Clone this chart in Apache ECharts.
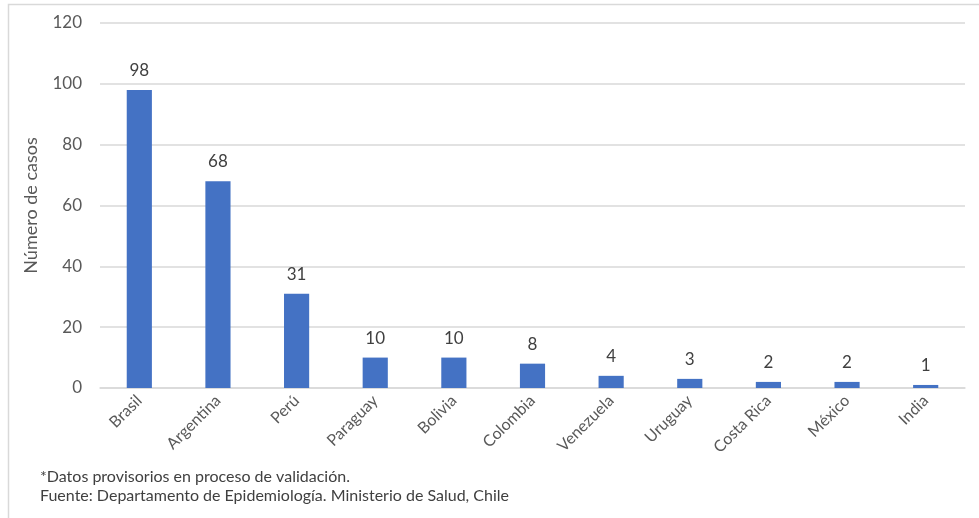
<!DOCTYPE html>
<html>
<head>
<meta charset="utf-8">
<script src="https://cdn.jsdelivr.net/npm/echarts@6/dist/echarts.min.js"></script>
<style>
  html, body { margin: 0; padding: 0; background: #fff; }
  #chart { width: 979px; height: 518px; }
</style>
</head>
<body>
<div id="chart"></div>
<script>
const countries = ['Brasil', 'Argentina', 'Perú', 'Paraguay', 'Bolivia', 'Colombia', 'Venezuela', 'Uruguay', 'Costa Rica', 'México', 'India']
const cases = [98, 68, 31, 10, 10, 8, 4, 3, 2, 2, 1]
const yTicks = { min: 0, max: 120, interval: 20 }
const notes = [
    '*Datos provisorios en proceso de validación.',
    'Fuente: Departamento de Epidemiología. Ministerio de Salud, Chile',
]

const font = 'Lato, "Open Sans", sans-serif'
const chart = echarts.init(document.getElementById('chart'))

chart.setOption({
    animation: false,
    textStyle: { fontFamily: font },
    grid: { left: 100, right: 14, top: 23, bottom: 130 },
    xAxis: {
        type: 'category',
        data: countries,
        axisLine: { lineStyle: { color: '#d9d9d9', width: 1.5 } },
        axisTick: { show: false },
        axisLabel: {
            rotate: 45,
            color: '#595959',
            fontSize: 16,
            fontFamily: font,
            margin: 10,
        },
    },
    yAxis: {
        type: 'value',
        min: yTicks.min,
        max: yTicks.max,
        interval: yTicks.interval,
        name: 'Número de casos',
        nameLocation: 'middle',
        nameGap: 60,
        nameTextStyle: { color: '#595959', fontSize: 18, fontFamily: font },
        axisLine: { show: false },
        axisTick: { show: false },
        axisLabel: { color: '#595959', fontSize: 17, fontFamily: font, margin: 18 },
        splitLine: { lineStyle: { color: '#d9d9d9', width: 1.5 } },
    },
    series: [{
        type: 'bar',
        data: cases,
        barWidth: '32%',
        itemStyle: { color: '#4472c4' },
        label: {
            show: true,
            position: 'top',
            distance: 11,
            color: '#404040',
            fontSize: 17,
            fontFamily: font,
        },
    }],
    graphic: [
        {
            type: 'rect',
            shape: { x: 8.5, y: 4.5, width: 990, height: 530 },
            style: { fill: 'none', stroke: '#d9d9d9', lineWidth: 1.5 },
            silent: true,
        },
        {
            type: 'text',
            left: 40,
            top: 469,
            style: { text: notes[0], fill: '#404040', fontSize: 16, fontFamily: font },
        },
        {
            type: 'text',
            left: 40,
            top: 488,
            style: { text: notes[1], fill: '#404040', fontSize: 16, fontFamily: font },
        },
    ],
})
</script>
</body>
</html>
